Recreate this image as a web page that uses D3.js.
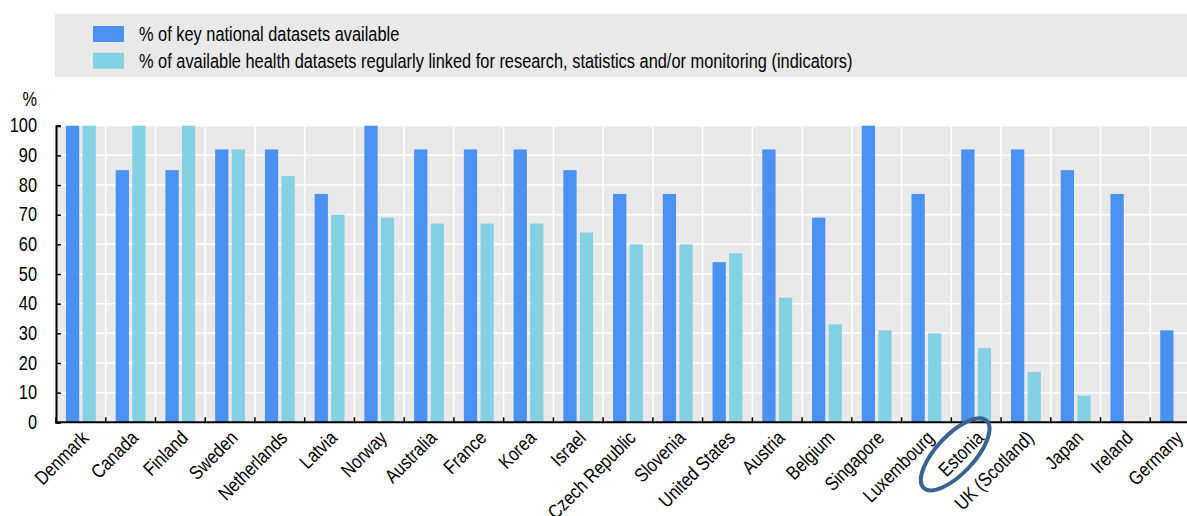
<!DOCTYPE html>
<html>
<head>
<meta charset="utf-8">
<script src="https://cdn.jsdelivr.net/npm/d3@7"></script>
<style>
  body { margin: 0; background: #fff; }
  svg { display: block; }
  text { font-family: 'Liberation Sans', Arial, sans-serif; fill: #000; }
</style>
</head>
<body>
<div id="chart"></div>
<script>
const countries = ["Denmark", "Canada", "Finland", "Sweden", "Netherlands", "Latvia", "Norway", "Australia",
  "France", "Korea", "Israel", "Czech Republic", "Slovenia", "United States", "Austria", "Belgium",
  "Singapore", "Luxembourg", "Estonia", "UK (Scotland)", "Japan", "Ireland", "Germany"];
const available = [100, 85, 85, 92, 92, 77, 100, 92, 92, 92, 85, 77, 77, 54, 92, 69, 100, 77, 92, 92, 85, 77, 31];
const linked = [100, 100, 100, 92, 83, 70, 69, 67, 67, 67, 64, 60, 60, 57, 42, 33, 31, 30, 25, 17, 9, null, null];
const seriesLabels = [
  "% of key national datasets available",
  "% of available health datasets regularly linked for research, statistics and/or monitoring (indicators)"
];
const yTicks = [0, 10, 20, 30, 40, 50, 60, 70, 80, 90, 100];
const highlighted = "Estonia";

const W = 1187, H = 516;
const colors = ["#4a91f2", "#85d1e3"];
const fontSize = 19.5;
const narrow = "scale(0.84,1)"; // no condensed face installed, squeeze the regular one

const svg = d3.select("#chart").append("svg")
  .attr("width", W).attr("height", H);

// legend
const legend = svg.append("g");
legend.append("rect")
  .attr("x", 55).attr("y", 14).attr("width", W - 55).attr("height", 63)
  .attr("fill", "#e9e9e9");
seriesLabels.forEach((lab, i) => {
  const row = legend.append("g").attr("transform", `translate(93, ${26 + i * 26.7})`);
  row.append("rect").attr("width", 31).attr("height", 16).attr("fill", colors[i]);
  row.append("text").attr("transform", `translate(46,8) ${narrow}`).attr("dy", "0.35em")
    .style("font-size", fontSize + "px").text(lab);
});

const plotL = 56, plotR = 1200, plotT = 125.7, plotB = 422.3;

const x0 = d3.scaleBand().domain(countries).range([plotL, plotR])
  .paddingInner(0.4).paddingOuter(0.2);
const x1 = d3.scaleBand().domain([0, 1]).range([0, x0.bandwidth()]).paddingInner(0.2);
const y = d3.scaleLinear().domain([0, 100]).range([plotB, plotT]);

const step = x0.step();
const bounds = countries.map(c => x0(c) - step * 0.2).concat([plotR]);

// plot background
svg.append("rect")
  .attr("x", plotL).attr("y", plotT).attr("width", plotR - plotL).attr("height", plotB - plotT)
  .attr("fill", "#e9e9e9");

// grid
svg.append("g").selectAll("line").data(yTicks).enter().append("line")
  .attr("x1", plotL).attr("x2", plotR)
  .attr("y1", d => y(d)).attr("y2", d => y(d))
  .attr("stroke", "#fff").attr("stroke-width", 1.5);
svg.append("g").selectAll("line").data(bounds).enter().append("line")
  .attr("x1", d => d).attr("x2", d => d)
  .attr("y1", plotT).attr("y2", plotB)
  .attr("stroke", "#fff").attr("stroke-width", 1.5);

// bars
const groups = svg.append("g").selectAll("g").data(countries).enter().append("g")
  .attr("transform", d => `translate(${x0(d)},0)`);
groups.selectAll("rect")
  .data((d, i) => [available[i], linked[i]].map((v, k) => ({ v, k })).filter(o => o.v != null))
  .enter().append("rect")
  .attr("x", d => x1(d.k))
  .attr("width", x1.bandwidth())
  .attr("y", d => y(d.v))
  .attr("height", d => y(0) - y(d.v))
  .attr("fill", d => colors[d.k]);

// y axis
const yAxis = svg.append("g").attr("transform", `translate(${plotL},0)`)
  .call(d3.axisRight(y).tickValues(yTicks).tickSize(5).tickFormat(d3.format("d")));
yAxis.attr("font-family", null).attr("font-size", null);
yAxis.select(".domain").attr("stroke", "#000").attr("stroke-width", 2);
yAxis.selectAll(".tick line").attr("stroke", "#000").attr("stroke-width", 1.5);
yAxis.selectAll(".tick text")
  .attr("x", 0).attr("transform", `translate(-19,0) ${narrow}`)
  .attr("text-anchor", "end").attr("fill", "#000")
  .style("font-size", fontSize + "px");

svg.append("text").attr("transform", `translate(37,106) ${narrow}`).attr("text-anchor", "end")
  .style("font-size", fontSize + "px").text("%");

// x axis
svg.append("line").attr("x1", plotL - 1).attr("x2", plotR).attr("y1", plotB).attr("y2", plotB)
  .attr("stroke", "#000").attr("stroke-width", 2);
svg.append("g").selectAll("line").data(bounds).enter().append("line")
  .attr("x1", d => d).attr("x2", d => d)
  .attr("y1", plotB).attr("y2", plotB - 5)
  .attr("stroke", "#000").attr("stroke-width", 1.5);

svg.append("g").selectAll("text").data(countries).enter().append("text")
  .attr("transform", d => `translate(${x0(d) + x0.bandwidth() / 2 + 4},${plotB + 12}) rotate(-45) ${narrow}`)
  .attr("text-anchor", "end")
  .attr("dy", "0.35em")
  .style("font-size", fontSize + "px")
  .text(d => d);

// highlight ring
const hx = x0(highlighted) + x0.bandwidth() / 2 - 21;
svg.append("ellipse")
  .attr("transform", `translate(${hx},${plotB + 32}) rotate(-47)`)
  .attr("rx", 46).attr("ry", 19)
  .attr("fill", "none").attr("stroke", "#3a6391").attr("stroke-width", 4);
</script>
</body>
</html>
